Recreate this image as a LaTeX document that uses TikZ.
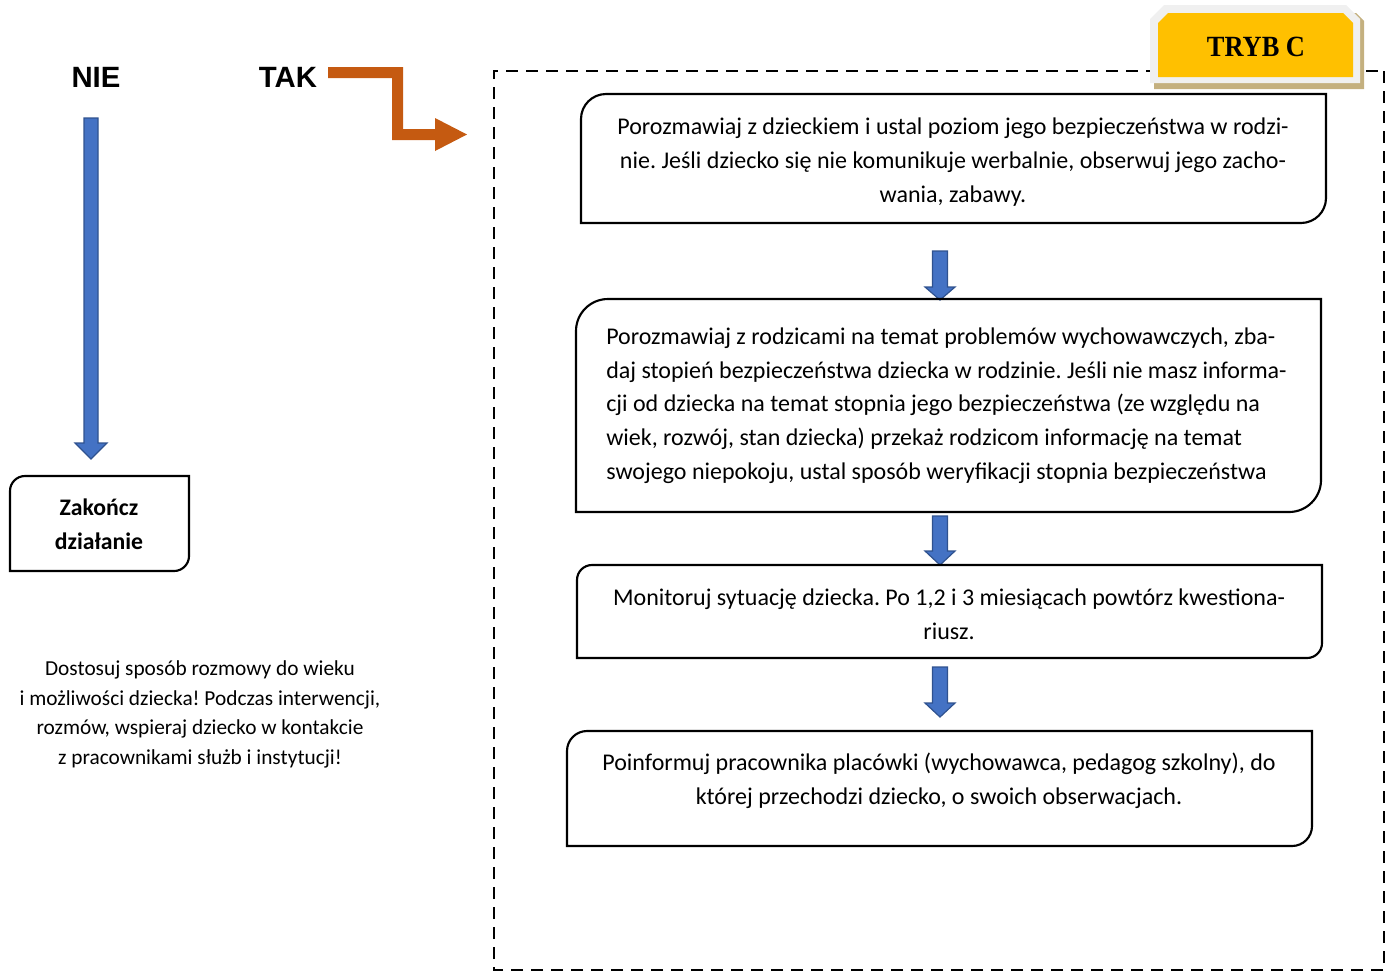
\documentclass[tikz,border=0pt]{standalone}
\usepackage{fontspec}
\setmainfont{Carlito}
\newfontfamily\arialfont{Liberation Sans}
\newfontfamily\serifbold{Liberation Serif}
\usetikzlibrary{calc}
\frenchspacing
\definecolor{orangearrow}{HTML}{C55A11}
\definecolor{bluefill}{HTML}{4472C4}
\definecolor{blueedge}{HTML}{2F528F}
\definecolor{tabyellow}{HTML}{FFC000}
\definecolor{tabgrey}{HTML}{F0F0F0}
\definecolor{tabshadow}{HTML}{C4B07F}
\tikzset{
  x=0.75pt, y=-0.75pt,
  boxline/.style={line width=1.6pt, black},
  boxtext/.style={font=\fontsize{18}{25.3}\selectfont, align=center, inner sep=0pt},
  bluearrow/.style={fill=bluefill, draw=blueedge, line width=0.9pt, line join=miter},
  frameline/.style={line width=1.5pt, dash pattern=on 9pt off 6pt},
}
% rounded top-left and bottom-right corners
\newcommand{\tlbrbox}[5]{% x1,y1,x2,y2,r
  \draw[boxline] (#1,#4) -- (#1,#2+#5) arc[start angle=180,end angle=90,x radius=#5,y radius=-#5]
    -- (#3,#2) -- (#3,#4-#5) arc[start angle=0,end angle=-90,x radius=#5,y radius=-#5] -- cycle;}
% vertical block arrow: cx, ytop, ybase, ytip, halfshaft, halfhead
\newcommand{\varrow}[6]{%
  \draw[bluearrow] (#1-#5,#2) -- (#1+#5,#2) -- (#1+#5,#3) -- (#1+#6,#3) -- (#1,#4)
    -- (#1-#6,#3) -- (#1-#5,#3) -- cycle;}
\begin{document}
\begin{tikzpicture}
\useasboundingbox (0,0) rectangle (1394,972);

% dashed frame
\coordinate (fTL) at (494,71);
\coordinate (fTR) at (1384,71);
\coordinate (fBL) at (494,970);
\coordinate (fBR) at (1384,970);
\draw[frameline] (fTR) -- (fBR) -- (fBL) -- (fTL) -- (fTR);

% TRYB C tab
\fill[tabshadow] (1160,13) -- (1356,13) -- (1364,21) -- (1364,89) -- (1154,89) -- (1154,19) -- cycle;
\fill[tabgrey] (1164,5) -- (1346,5) -- (1360,19) -- (1360,83) -- (1150,83) -- (1150,19) -- cycle;
\fill[tabyellow] (1168,13) -- (1343,13) -- (1353,23) -- (1353,77) -- (1158,77) -- (1158,23) -- cycle;
\node[inner sep=0pt] (tryb) at (1256,47) {\serifbold\bfseries\fontsize{22}{26}\selectfont\scalebox{0.9}[1]{TRYB C}};

% NIE / TAK
\node[inner sep=0pt, font=\arialfont\bfseries\fontsize{22}{24}\selectfont] (nie) at (96,77) {NIE};
\node[inner sep=0pt, font=\arialfont\bfseries\fontsize{22}{24}\selectfont] (tak) at (288,77) {TAK};

% orange arrow
\fill[orangearrow] (328,67) -- (403,67) -- (403,129) -- (435,129) -- (435,118) -- (467,134.5)
  -- (435,151) -- (435,140) -- (392,140) -- (392,78) -- (328,78) -- cycle;

% left blue arrow
\varrow{91}{118}{443}{459}{7}{16}

% Zakończ działanie
\tlbrbox{10}{476}{189}{571}{15}
\node[boxtext, font=\bfseries\fontsize{17.8}{25.5}\selectfont] (end) at (99,524) {Zakończ\\działanie};

% note
\node[inner sep=0pt, align=center, font=\fontsize{16}{22.2}\selectfont] (note) at (200,714.5)
  {Dostosuj sposób rozmowy do wieku\\i możliwości dziecka! Podczas interwencji,\\rozmów, wspieraj dziecko w kontakcie\\z pracownikami służb i instytucji!};

% box 1
\tlbrbox{581}{94}{1326}{223}{25}
\node[boxtext] (b1) at (953,162) {Porozmawiaj z dzieckiem i ustal poziom jego bezpieczeństwa w rodzi-\\nie. Jeśli dziecko się nie komunikuje werbalnie, obserwuj jego zacho-\\wania, zabawy.};

% arrow 1
\varrow{940}{251}{287}{300}{7.5}{15}

% box 2
\tlbrbox{576}{299}{1321}{512}{32}
\node[boxtext, align=left, anchor=west] (b2) at (606,405.5) {Porozmawiaj z rodzicami na temat problemów wychowawczych, zba-\\daj stopień bezpieczeństwa dziecka w rodzinie. Jeśli nie masz informa-\\cji od dziecka na temat stopnia jego bezpieczeństwa (ze względu na\\wiek, rozwój, stan dziecka) przekaż rodzicom informację na temat\\swojego niepokoju, ustal sposób weryfikacji stopnia bezpieczeństwa};

% arrow 2
\varrow{940}{516}{551}{565}{7.5}{15}

% box 3
\tlbrbox{577}{565}{1322}{658}{15}
\node[boxtext] (b3) at (949,614) {Monitoruj sytuację dziecka. Po 1,2 i 3 miesiącach powtórz kwestiona-\\riusz.};

% arrow 3
\varrow{940}{667}{703}{717}{7.5}{15}

% box 4
\tlbrbox{567}{731}{1312}{846}{20}
\node[boxtext] (b4) at (939,781) {Poinformuj pracownika placówki (wychowawca, pedagog szkolny), do\\której przechodzi dziecko, o swoich obserwacjach.};
\end{tikzpicture}
\end{document}
